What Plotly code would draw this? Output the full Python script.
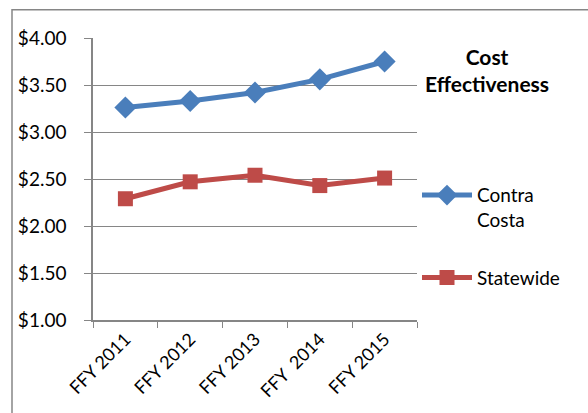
import plotly.graph_objects as go

categories = ["FFY 2011", "FFY 2012", "FFY 2013", "FFY  2014", "FFY 2015"]
contra_costa = [3.26, 3.33, 3.42, 3.56, 3.75]
statewide = [2.29, 2.47, 2.54, 2.43, 2.51]
tick_vals = [1.0, 1.5, 2.0, 2.5, 3.0, 3.5, 4.0]
tick_text = ["$1.00", "$1.50", "$2.00", "$2.50", "$3.00", "$3.50", "$4.00"]

FONT = "Lato"
fig = go.Figure()
fig.add_trace(go.Scatter(x=categories, y=contra_costa, name="Contra<br>Costa",
                         mode="lines+markers", legendgroup="a",
                         line=dict(color="#4a7ebb", width=5),
                         marker=dict(symbol="diamond", size=17, color="#4a7ebb")))
fig.add_trace(go.Scatter(x=categories, y=statewide, name="Statewide",
                         mode="lines+markers", legendgroup="b",
                         line=dict(color="#be4b48", width=5),
                         marker=dict(symbol="square", size=15, color="#be4b48")))

fig.update_layout(
    width=588, height=413,
    margin=dict(l=93, r=171, t=38, b=91),
    paper_bgcolor="white", plot_bgcolor="white",
    font=dict(family=FONT, size=19, color="black"),
    showlegend=True,
    legend=dict(x=1.0, y=0.51, xanchor="left", yanchor="top", valign="top",
                font=dict(size=19), tracegroupgap=30, itemwidth=50,
                bgcolor="rgba(0,0,0,0)"),
    xaxis=dict(type="category", range=[-0.5, 4.5], tickson="boundaries",
               ticks="outside", ticklen=6, tickcolor="#868686",
               showline=True, linecolor="#868686", linewidth=1.5,
               showgrid=False, tickangle=-45, tickfont=dict(size=18)),
    yaxis=dict(range=[1, 4], tickvals=tick_vals, ticktext=tick_text,
               ticks="outside", ticklen=7, tickcolor="#868686",
               showline=True, linecolor="#868686", linewidth=1.5,
               showgrid=True, gridcolor="#868686", gridwidth=1,
               zeroline=False, ticklabelstandoff=14, tickfont=dict(size=19)),
    annotations=[dict(text="<b>Cost<br>Effectiveness</b>", xref="paper", yref="paper",
                      x=1.215, y=0.885, xanchor="center", yanchor="middle",
                      showarrow=False, font=dict(size=21))],
    shapes=[dict(type="rect", xref="paper", yref="paper",
                 x0=-0.25, x1=1.7, y0=-0.5, y1=1.1,
                 line=dict(color="#868686", width=1.5))],
)
fig.write_html("out.html")
